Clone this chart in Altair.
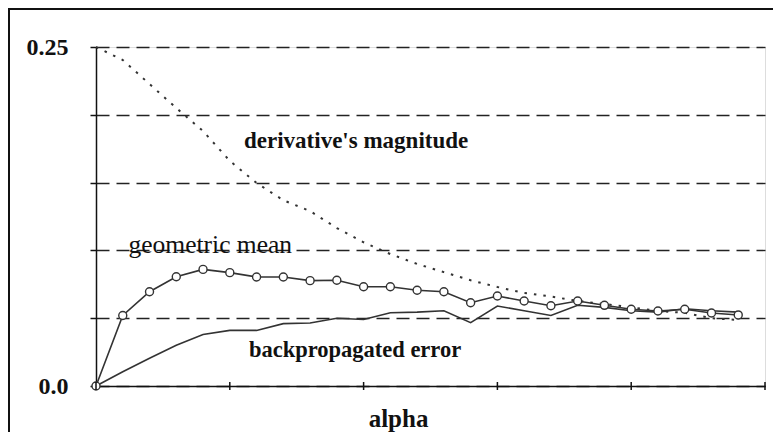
import altair as alt
import pandas as pd

# ---- data ----
alpha_idx = list(range(25))
geo_mean = [0.0, 0.052, 0.0695, 0.0806, 0.086, 0.0836, 0.0804, 0.0804, 0.0777, 0.078,
            0.0732, 0.0732, 0.0706, 0.0695, 0.0614, 0.0664, 0.0627, 0.0592, 0.0627, 0.0595,
            0.0566, 0.0553, 0.0566, 0.0538, 0.0524]
backprop = [0.0, 0.0105, 0.0204, 0.030, 0.038, 0.041, 0.041, 0.046, 0.0465, 0.050,
            0.049, 0.054, 0.0545, 0.0555, 0.0467, 0.059, 0.0555, 0.052, 0.0595, 0.058,
            0.0555, 0.0545, 0.057, 0.0555, 0.0545]
deriv = [0.25, 0.2404, 0.2227, 0.205, 0.188, 0.166, 0.1497, 0.137, 0.129, 0.1165,
         0.106, 0.0973, 0.09, 0.084, 0.078, 0.073, 0.0686, 0.066, 0.0627, 0.0605,
         0.058, 0.0553, 0.054, 0.050, 0.0487]
y_ticks = [0, 0.05, 0.10, 0.15, 0.20, 0.25]
x_ticks = [0, 5, 10, 15, 20, 25]

label_text = ["derivative's magnitude", "geometric mean", "backpropagated error"]
label_x = [9.72, 4.27, 9.68]
label_y = [0.1755, 0.098, 0.0216]

FONT = "'Liberation Serif', 'Times New Roman', 'DejaVu Serif', serif"
W, H = 669, 339

long = pd.DataFrame({
    "alpha": alpha_idx * 3,
    "value": deriv + backprop + geo_mean,
    "series": ["der"] * 25 + ["bp"] * 25 + ["geo"] * 25,
})
ticks_df = pd.DataFrame({"alpha": x_ticks, "value": [0.0] * len(x_ticks)})
labels_df = pd.DataFrame({"alpha": label_x, "value": label_y, "label": label_text})

xs = alt.Scale(domain=[0, 25], nice=False, zero=False)
ys = alt.Scale(domain=[0, 0.25], nice=False, zero=False)

x_axis = alt.Axis(values=x_ticks, labels=False, ticks=False, grid=False,
                  domainColor="#111", domainWidth=1.5,
                  title="alpha", titleFont=FONT, titleFontSize=25, titleFontWeight="bold",
                  titleColor="#111", titleX=302, titleY=40.5, titleBaseline="alphabetic",
                  titleAlign="center", titleAngle=0)
y_axis = alt.Axis(values=y_ticks,
                  labelExpr="datum.value == 0 ? '0.0' : (datum.value == 0.25 ? '0.25' : '')",
                  labelFont=FONT, labelFontSize=24, labelFontWeight="bold", labelColor="#111",
                  labelPadding=22, tickSize=6, tickColor="#111", tickWidth=1.5,
                  domainColor="#111", domainWidth=1.5,
                  grid=True, gridDash=[13, 7], gridColor="#222", gridWidth=1.4,
                  title=None)

X = alt.X("alpha:Q", scale=xs, axis=x_axis)
Y = alt.Y("value:Q", scale=ys, axis=y_axis)

base = alt.Chart(long).encode(x=X, y=Y)

der_line = base.transform_filter(alt.datum.series == "der").mark_line(
    color="#333", strokeWidth=2, strokeDash=[2.5, 7])
bp_line = base.transform_filter(alt.datum.series == "bp").mark_line(
    color="#333", strokeWidth=1.6)
geo_line = base.transform_filter(alt.datum.series == "geo").mark_line(
    color="#333", strokeWidth=1.6)
geo_pts = base.transform_filter(alt.datum.series == "geo").mark_point(
    shape="circle", filled=True, fill="white", stroke="#333", strokeWidth=1.4,
    size=64, opacity=1)

tick_rules = alt.Chart(ticks_df).mark_rule(
    color="#111", strokeWidth=1.5, yOffset=-4, y2Offset=4).encode(
    x=X, y=Y, y2=alt.Y2("value:Q"))

def label_layer(i, weight, size):
    return alt.Chart(labels_df.iloc[[i]]).mark_text(
        font=FONT, fontSize=size, fontWeight=weight, color="#111",
        align="center", baseline="alphabetic").encode(x=X, y=Y, text="label:N")

lab_der = label_layer(0, "bold", 23)
lab_geo = label_layer(1, "normal", 25.5)
lab_bp = label_layer(2, "bold", 22.5)

frame_df = pd.DataFrame({"a": [0]})
frame_left = alt.Chart(frame_df).mark_rule(color="#111", strokeWidth=2).encode(
    x=alt.value(-87), y=alt.value(-38), y2=alt.value(H + 300))
frame_top = alt.Chart(frame_df).mark_rule(color="#111", strokeWidth=2).encode(
    x=alt.value(-88), x2=alt.value(W + 300), y=alt.value(-38))

chart = alt.layer(
    der_line, bp_line, geo_line, geo_pts, tick_rules, lab_der, lab_geo, lab_bp,
    frame_left, frame_top
).properties(
    width=W, height=H,
    autosize=alt.AutoSizeParams(type="none"),
    padding={"left": 88, "top": 39, "right": 8, "bottom": 46},
    background="white",
).configure_view(stroke=None).configure(font=FONT)

chart.save("out.html", embed_options={"renderer": "svg", "actions": False})
